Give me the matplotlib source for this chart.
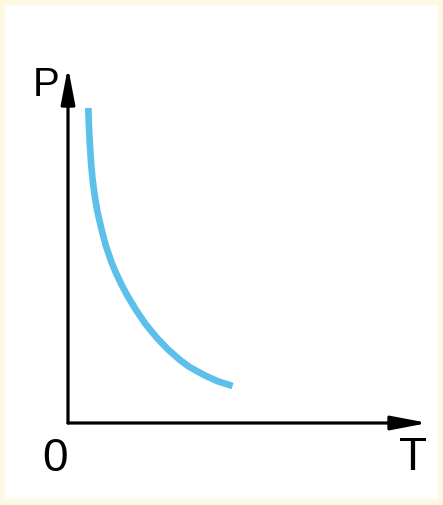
import matplotlib
matplotlib.use("Agg")
import matplotlib.pyplot as plt
from matplotlib.patches import Rectangle

# curve (arbitrary units, origin at the axes corner)
temperature = [20.3, 21, 21.9, 23, 24.4, 26.6, 29.3, 33.2, 37.6, 43.4, 48, 53.2,
               59, 68, 77.5, 89, 99.5, 112, 121.5, 136, 149, 164.6]
pressure = [315, 295, 278, 261, 245, 228, 212, 195, 178, 161, 150, 139,
            128, 113, 99, 85, 74, 63, 56, 48, 42, 37]

x_max = 360
y_max = 356
x_label = "T"
y_label = "P"
origin_label = "0"

fig = plt.figure(figsize=(4.43, 5.05), dpi=100)
fig.patch.set_facecolor("#fdf9e2")
# white page inside a thin yellowish border
fig.patches.append(Rectangle((5 / 443, 6 / 505), 433 / 443, 494 / 505,
                             transform=fig.transFigure, facecolor="white",
                             edgecolor="none", zorder=-10))

ax = fig.add_axes([68 / 443, 82 / 505, 360 / 443, 356 / 505])
ax.set_xlim(0, x_max)
ax.set_ylim(0, y_max)
ax.set_facecolor("none")
for s in ax.spines.values():
    s.set_visible(False)
ax.set_xticks([])
ax.set_yticks([])

# axes with arrows
arrow = dict(arrowstyle="-|>,head_length=2.2,head_width=0.42", color="black",
             lw=2.3, shrinkA=0, shrinkB=0)
ax.annotate("", xy=(x_max, 0), xytext=(0, 0), arrowprops=arrow, annotation_clip=False)
ax.annotate("", xy=(0, y_max), xytext=(0, 0), arrowprops=arrow, annotation_clip=False)

ax.plot(temperature, pressure, color="#5cc0ea", lw=4.8,
        solid_capstyle="butt", solid_joinstyle="round")

txt = dict(family=["Liberation Sans", "DejaVu Sans"], fontweight="normal")
ax.text(-12.5, -14, origin_label, fontsize=33, ha="center", va="top", **txt)
ax.text(344.5, -13, x_label, fontsize=33, ha="center", va="top", **txt)
ax.text(-21.5, y_max + 1, y_label, fontsize=29, ha="center", va="top", **txt)

fig.savefig("out.png", dpi=100)
